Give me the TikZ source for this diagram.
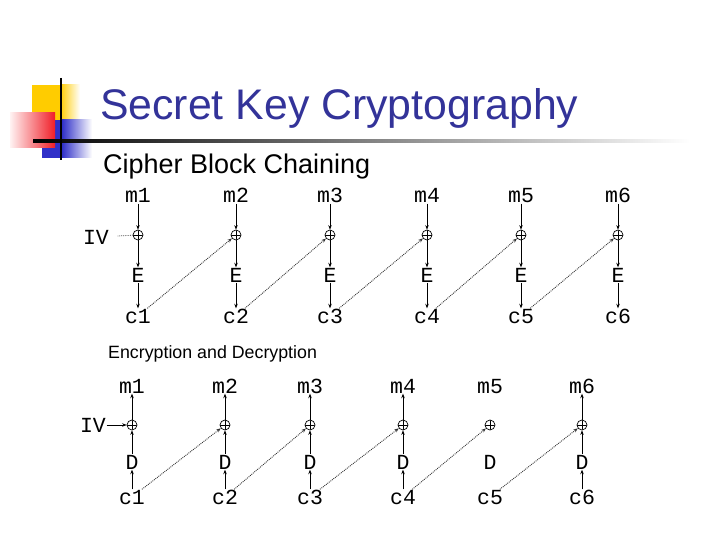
\documentclass[tikz,border=0pt]{standalone}
\usepackage{fontspec}
\setmainfont{Liberation Sans}
\setmonofont{Liberation Mono}
\usetikzlibrary{arrows.meta}
\definecolor{titleblue}{RGB}{51,51,153}
\definecolor{decoyellow}{RGB}{255,204,0}
\definecolor{decoblue}{RGB}{48,48,200}
\definecolor{decored}{RGB}{240,30,40}

\begin{document}
\begin{tikzpicture}[
  x=1pt, y=-1pt,
  >={Stealth[length=4.5pt,width=3.5pt]},
  lbl/.style={font=\ttfamily\fontsize{21.5}{21.5}\selectfont, inner sep=0.5pt,
    text height=14pt, text depth=0pt},
  xorbox/.style={circle, draw, line width=0.7pt, minimum size=10pt, inner sep=0pt,
    path picture={\draw[line width=0.8pt]
      (path picture bounding box.north) -- (path picture bounding box.south)
      (path picture bounding box.west) -- (path picture bounding box.east);}},
  flow/.style={->, draw=black, line width=0.7pt},
  chain/.style={->, densely dotted, draw=black!80, line width=0.9pt},
]
\useasboundingbox (0,0) rectangle (720,540);

% slide decoration
\fill[decoyellow] (32,85) rectangle (60,120);
\shade[left color=decoyellow, right color=white] (60,85) rectangle (80,120);
\fill[decoblue] (42,120) rectangle (62,158);
\shade[left color=decoblue, right color=white] (62,120) rectangle (92,158);
\shade[left color=red!5, right color=decored] (10,113) rectangle (55,148);
\shade[left color=black, middle color=black!40, right color=white] (33,139.8) rectangle (690,142.4);
\draw[line width=2.6pt] (61,78) -- (61,160);

% headings
\node[anchor=base west, inner sep=0pt, text=titleblue, font=\fontsize{42.8}{43}\selectfont]
  (title) at (100,120) {Secret Key Cryptography};
\node[anchor=base west, inner sep=0pt, font=\fontsize{27}{27}\selectfont]
  (cbc) at (103,174) {Cipher Block Chaining};
\node[anchor=base west, inner sep=0pt, font=\fontsize{17.8}{18}\selectfont]
  (encdec) at (108,358) {Encryption and Decryption};

% encryption chain
\node[lbl] (tiv) at (96,237) {IV};
\foreach \i/\x in {1/138,2/236,3/330,4/427,5/521,6/618} {
  \node[lbl] (tm\i) at (\x,196) {m\i};
  \node[xorbox] (tx\i) at (\x,235) {};
  \node[lbl] (te\i) at (\x,275) {E};
  \node[lbl] (tc\i) at (\x,316) {c\i};
  \draw[flow] (tm\i) -- (tx\i);
  \draw[flow] (tx\i) -- (te\i);
  \draw[flow] (te\i) -- (tc\i);
}
\draw[densely dotted, draw=black!65, line width=0.8pt, shorten <=8pt] (tiv) -- (tx1);
\foreach \i/\j in {1/2,2/3,3/4,4/5,5/6}
  \draw[chain] (tc\i) -- (tx\j);

% decryption chain
\node[lbl] (biv) at (93,425) {IV};
\foreach \i/\x in {1/132,2/225,3/310,4/403,5/490,6/582} {
  \node[lbl] (bm\i) at (\x,386) {m\i};
  \node[xorbox] (bx\i) at (\x,425) {};
  \node[lbl] (bd\i) at (\x,462) {D};
  \node[lbl] (bc\i) at (\x,497) {c\i};
}
\foreach \i in {1,2,3,4,6} {
  \draw[flow] (bc\i) -- (bd\i);
  \draw[flow] (bd\i) -- (bx\i);
  \draw[flow] (bx\i) -- (bm\i);
}
\draw[flow] (biv) -- (bx1);
\foreach \i/\j in {1/2,2/3,3/4,4/5,5/6}
  \draw[chain] (bc\i) -- (bx\j);
\end{tikzpicture}
\end{document}
